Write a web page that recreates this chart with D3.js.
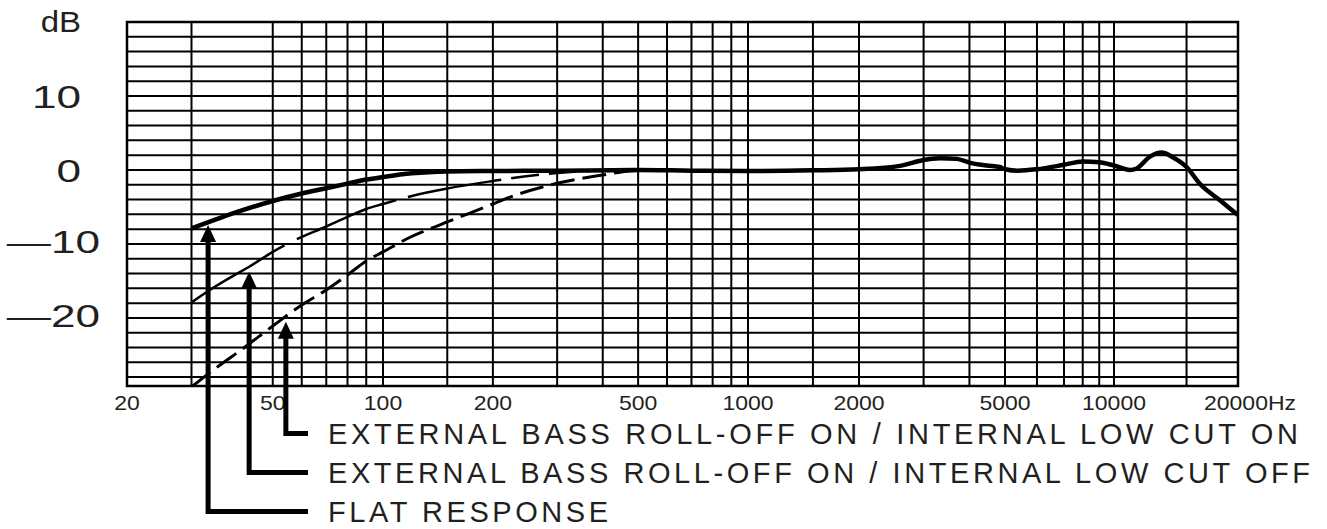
<!DOCTYPE html>
<html>
<head>
<meta charset="utf-8">
<script src="https://cdn.jsdelivr.net/npm/d3@7"></script>
<style>
body { margin: 0; background: #fff; }
text { font-family: "Liberation Sans", Arial, sans-serif; fill: #231f20; }
</style>
</head>
<body>
<div id="chart"></div>
<script>
// frequency response
var flatFreq = [30, 35, 40, 50, 60, 70, 80, 90, 100, 120, 150, 200, 300, 500, 700, 1000, 1500, 2000, 2588, 2806, 3000, 3325, 3690, 4000, 4460, 4840, 5000, 5385, 6000, 7000, 8000, 9000, 10000, 10940, 11350, 12230, 13060, 13810, 15000, 16180, 18080, 20000];
var flatDb   = [-7.88, -6.69, -5.68, -4.19, -3.18, -2.47, -1.85, -1.3, -0.95, -0.45, -0.2, -0.14, -0.1, 0, -0.1, -0.15, -0.05, 0.1, 0.55, 1.0, 1.35, 1.6, 1.5, 1.0, 0.6, 0.4, 0.1, -0.1, 0.1, 0.7, 1.15, 1.05, 0.6, 0, 0.2, 1.8, 2.35, 1.8, 0.4, -1.9, -4.1, -6.1];

var lowCutOffFreq = [30, 33, 40, 43, 50, 58, 70, 80, 90, 100, 120, 150, 200, 250, 300, 350, 400];
var lowCutOffDb   = [-17.91, -16.49, -13.99, -13.11, -11.08, -9.39, -7.64, -6.35, -5.27, -4.6, -3.51, -2.5, -1.49, -0.81, -0.41, -0.18, -0.07];

var lowCutOnFreq = [30, 35, 42, 50, 60, 70, 80, 90, 100, 116, 150, 200, 218, 300, 400, 475, 550];
var lowCutOnDb   = [-29.33, -26.76, -23.93, -21.09, -18.25, -16.22, -14.19, -12.3, -11.08, -9.33, -7.03, -4.6, -3.85, -1.8, -0.68, -0.14, 0];

var gridFreqs = [30, 50, 60, 70, 80, 90, 100, 150, 200, 300, 400, 500, 600, 700, 800, 900, 1000, 1500, 2000, 3000, 4000, 5000, 6000, 7000, 8000, 9000, 10000, 15000];
var gridDb = d3.range(-28, 21, 2);

var xTickValues = [20, 50, 100, 200, 500, 1000, 2000, 5000, 10000, 20000];
var yTickValues = [10, 0, -10, -20];
var yTickText = ["10", "0", "\u201410", "\u201420"];

var legendLabels = ["EXTERNAL BASS ROLL-OFF ON / INTERNAL LOW CUT ON",
                    "EXTERNAL BASS ROLL-OFF ON / INTERNAL LOW CUT OFF",
                    "FLAT RESPONSE"];
var arrowFreq = [54.3, 43.1, 33.3];
var arrowDb = [-20.5, -13.75, -7.43];

var width = 1327, height = 529;
var plotL = 127, plotR = 1238, plotT = 22, plotB = 386;

// the printed grid is not a perfect log scale, so use a piecewise log scale
var x = d3.scaleLog()
	.domain([20, 100, 1000, 2000, 5000, 7000, 10000, 20000])
	.range([plotL, 383, 748, 859, 1005, 1064, 1114, plotR]);

var y = d3.scaleLinear()
	.domain([-29.2, 20])
	.range([plotB, plotT]);

var svg = d3.select("#chart").append("svg").attr("width", width).attr("height", height);

svg.append("clipPath").attr("id", "plot")
	.append("rect").attr("x", plotL).attr("y", plotT).attr("width", plotR - plotL).attr("height", plotB - plotT);

// grid
var grid = svg.append("g").attr("stroke", "#000").attr("stroke-width", 2);
grid.selectAll(".v").data(gridFreqs).enter().append("line")
	.attr("x1", function(d){ return x(d); }).attr("x2", function(d){ return x(d); })
	.attr("y1", plotT).attr("y2", plotB);
grid.selectAll(".h").data(gridDb).enter().append("line")
	.attr("x1", plotL).attr("x2", plotR)
	.attr("y1", function(d){ return y(d); }).attr("y2", function(d){ return y(d); });
svg.append("rect").attr("x", plotL).attr("y", plotT).attr("width", plotR - plotL).attr("height", plotB - plotT)
	.attr("fill", "none").attr("stroke", "#000").attr("stroke-width", 2.5);

// curves
var line = d3.line()
	.x(function(d){ return x(d[0]); })
	.y(function(d){ return y(d[1]); })
	.curve(d3.curveMonotoneX);

var curves = svg.append("g").attr("clip-path", "url(#plot)").attr("fill", "none").attr("stroke", "#000");

curves.append("path")
	.attr("d", line(d3.zip(lowCutOnFreq, lowCutOnDb)))
	.attr("stroke-width", 3)
	.attr("stroke-dasharray", "24,8");

curves.append("path")
	.attr("d", line(d3.zip(lowCutOffFreq, lowCutOffDb)))
	.attr("stroke-width", 2.5)
	.attr("stroke-dasharray", "109,14,107,12,95,10,28,10,28,10,28,10,28");

curves.append("path")
	.attr("d", line(d3.zip(flatFreq, flatDb)))
	.attr("stroke-width", 4.5)
	.attr("stroke-linejoin", "round");

// axis labels
svg.selectAll(".xt").data(xTickValues).enter().append("text")
	.attr("transform", function(d){ return "translate(" + (d == 20000 ? x(d) - 34 : x(d)) + ",409.5) scale(1.15,1)"; })
	.attr("text-anchor", function(d){ return d == 20000 ? "start" : "middle"; })
	.attr("font-size", 20)
	.text(function(d){ return d == 20000 ? d + "Hz" : d; });

svg.selectAll(".yt").data(yTickValues).enter().append("text")
	.attr("transform", function(d){ return "translate(" + (d < 0 ? 100 : 81) + "," + (y(d) + (d < 0 ? 9.5 : 12)) + ") scale(1.38,1)"; })
	.attr("text-anchor", "end")
	.attr("font-size", 32)
	.text(function(d, i){ return yTickText[i]; });

svg.append("text")
	.attr("transform", "translate(81,32) scale(1.1,1)")
	.attr("text-anchor", "end")
	.attr("font-size", 30)
	.text("dB");

// legend with leader arrows
var legendX = 328, legendY0 = 444, legendStep = 39;
var lengths = [970, 982, 280];

legendLabels.forEach(function(label, i){
	var by = legendY0 + i * legendStep;
	var ax = x(arrowFreq[i]), ay = y(arrowDb[i]);
	var ly = by - 10.5;

	svg.append("path")
		.attr("d", "M" + (legendX - 20) + "," + ly + "H" + ax + "V" + (ay + 15))
		.attr("fill", "none").attr("stroke", "#000").attr("stroke-width", 5);

	svg.append("path")
		.attr("d", "M" + ax + "," + ay + "L" + (ax + 8) + "," + (ay + 17) + "L" + (ax - 8) + "," + (ay + 17) + "Z")
		.attr("fill", "#000");

	svg.append("text")
		.attr("x", legendX).attr("y", by)
		.attr("font-size", 29)
		.attr("textLength", lengths[i])
		.attr("lengthAdjust", "spacing")
		.text(label);
});
</script>
</body>
</html>
